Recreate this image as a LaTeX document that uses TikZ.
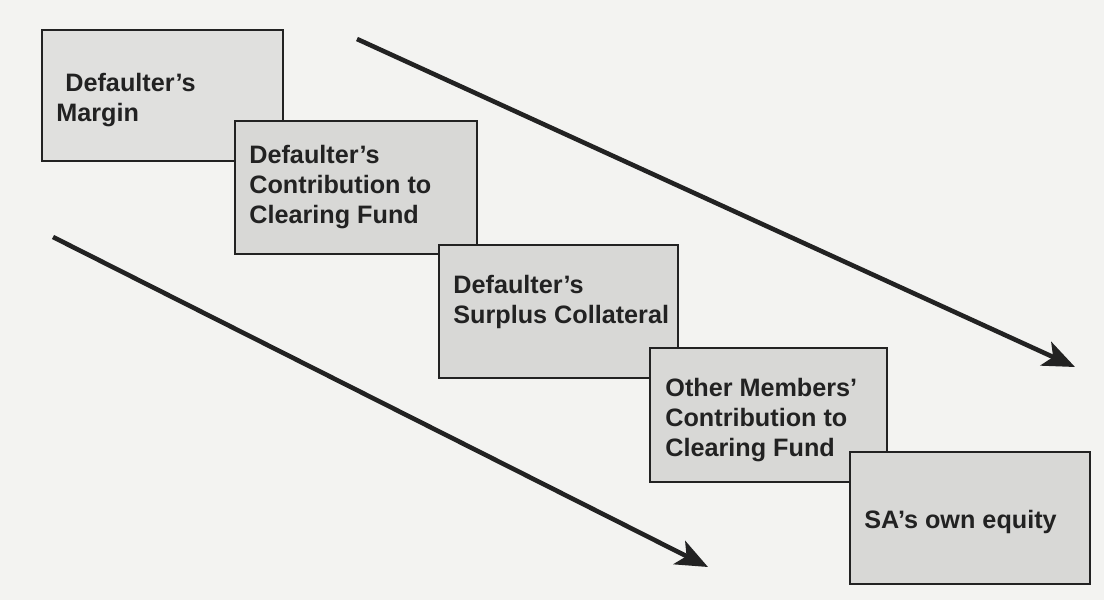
\documentclass[tikz,border=0pt]{standalone}
\usepackage{fontspec}
\setmainfont{Liberation Sans}
\usetikzlibrary{arrows.meta}
\definecolor{paper}{HTML}{F3F3F1}
\definecolor{boxfill}{HTML}{D8D8D6}
\definecolor{boxfillA}{HTML}{E0E0DE}
\definecolor{ink}{HTML}{222222}
\tikzset{
  x=0.5pt, y=-0.5pt,
  layer/.style={draw=ink, line width=1pt, fill=boxfill, rectangle,
                inner sep=0pt, minimum width=#1},
  layer/.default=121pt,
  caption/.style={anchor=north west, inner sep=0pt, align=left, text=ink,
                  font=\fontsize{12.6}{15}\selectfont\bfseries},
  flow/.style={draw=ink, line width=2.3pt,
               -{Stealth[length=16pt,width=13pt,inset=4pt]}}
}
\begin{document}
\begin{tikzpicture}
  % sheet
  \fill[paper] (0,0) rectangle (1104,600);
  \useasboundingbox (0,0) rectangle (1104,600);

  % waterfall of loss-absorbing layers, each overlapping the previous one
  \node[layer=120.5pt, fill=boxfillA, minimum height=65.5pt] (b1) at (162.5,95.5) {};
  \node[caption] (t1) at (56,73) {\hspace{4.5pt}Defaulter's\\Margin};

  \node[layer=121pt, minimum height=66.5pt] (b2) at (356,187.5) {};
  \node[caption] (t2) at (249,145) {Defaulter's\\Contribution to\\Clearing Fund};

  \node[layer=119.5pt, minimum height=66.5pt] (b3) at (558.5,311.5) {};
  \node[caption] (t3) at (453,275) {Defaulter's\\Surplus Collateral};

  \node[layer=118.5pt, minimum height=67pt] (b4) at (768.5,415) {};
  \node[caption] (t4) at (665,378) {Other Members'\\Contribution to\\Clearing Fund};

  \node[layer=120pt, minimum height=66pt] (b5) at (970,518) {};
  \node[caption] (t5) at (864,510) {SA's own equity};

  % direction arrows
  \coordinate (upA) at (357,39);
  \coordinate (upB) at (1075,367);
  \coordinate (loA) at (53,237);
  \coordinate (loB) at (708,567);
  \draw[flow] (upA) -- (upB);
  \draw[flow] (loA) -- (loB);
\end{tikzpicture}
\end{document}
